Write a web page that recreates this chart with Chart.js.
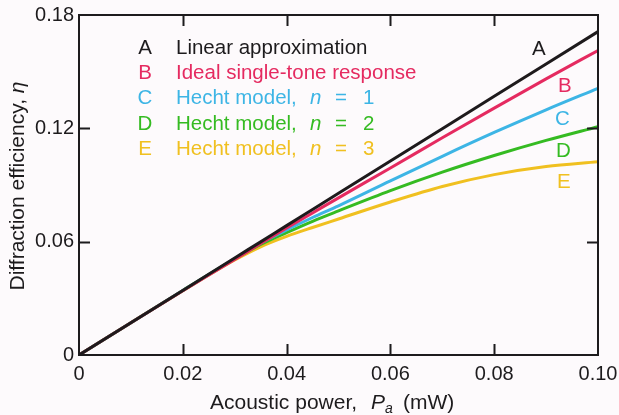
<!DOCTYPE html>
<html><head><meta charset="utf-8">
<script src="https://cdn.jsdelivr.net/npm/chart.js@4.4.0/dist/chart.umd.min.js"></script>
<style>html,body{margin:0;padding:0;background:#fdfafc;} #wrap{width:619px;height:415px;position:relative}</style>
</head><body><div id="wrap"><canvas id="c" width="619" height="415"></canvas></div>
<script>
// ---- data ----
const power   = [0, 0.01, 0.02, 0.03, 0.035, 0.04, 0.045, 0.05, 0.06, 0.07, 0.08, 0.09, 0.10];
const seriesA = [0, 0.0171, 0.0342, 0.0514, 0.0599, 0.0685, 0.0770, 0.0856, 0.1027, 0.1198, 0.1370, 0.1541, 0.1712];
const seriesB = [0, 0.0171, 0.0340, 0.0506, 0.0590, 0.0672, 0.0752, 0.0832, 0.0990, 0.1150, 0.1307, 0.1462, 0.1612];
const seriesC = [0, 0.0171, 0.0342, 0.0510, 0.0592, 0.0662, 0.0728, 0.0790, 0.0922, 0.1052, 0.1178, 0.1298, 0.1412];
const seriesD = [0, 0.0171, 0.0342, 0.0508, 0.0585, 0.0648, 0.0708, 0.0763, 0.0870, 0.0968, 0.1056, 0.1136, 0.1209];
const seriesE = [0, 0.0171, 0.0340, 0.0503, 0.0573, 0.0628, 0.0675, 0.0720, 0.0810, 0.0892, 0.0955, 0.0998, 0.1023];
const xTicks = [0, 0.02, 0.04, 0.06, 0.08, 0.10];
const xTickLabels = ['0', '0.02', '0.04', '0.06', '0.08', '0.10'];
const yTicks = [0, 0.06, 0.12, 0.18];
const yTickLabels = ['0', '0.06', '0.12', '0.18'];
const curveLetters = ['A', 'B', 'C', 'D', 'E'];
const legendTexts = ['Linear approximation', 'Ideal single-tone response', 'Hecht model, ', 'Hecht model, ', 'Hecht model, '];
const hechtOrders = [null, null, '1', '2', '3'];

const FONT = '"Liberation Sans", Arial, Helvetica, sans-serif';
const INK = '#1d1b1d';
const COLORS = ['#1e1a1c', '#e52a60', '#3db5e5', '#35bb22', '#f0c020'];
const allSeries = [seriesA, seriesB, seriesC, seriesD, seriesE];

const datasets = allSeries.map((s, i) => ({
  label: curveLetters[i],
  data: power.map((x, j) => ({x: x, y: s[j]})),
  borderColor: COLORS[i],
  backgroundColor: COLORS[i],
  borderWidth: 3,
  pointRadius: 0,
  cubicInterpolationMode: 'monotone',
  fill: false
}));

const decor = {
  id: 'decor',
  afterDraw(chart) {
    const c = chart.ctx, a = chart.chartArea;
    const xs = chart.scales.x, ys = chart.scales.y;
    c.save();
    // frame
    c.strokeStyle = INK; c.lineWidth = 2;
    c.strokeRect(a.left, a.top, a.right - a.left, a.bottom - a.top);
    // inward ticks
    const TL = 11;
    c.beginPath();
    xTicks.slice(1, -1).forEach(v => {
      const px = Math.round(xs.getPixelForValue(v)) + 0.5;
      c.moveTo(px, a.bottom); c.lineTo(px, a.bottom - TL);
      c.moveTo(px, a.top); c.lineTo(px, a.top + TL);
    });
    yTicks.slice(1, -1).forEach(v => {
      const py = Math.round(ys.getPixelForValue(v)) + 0.5;
      c.moveTo(a.left, py); c.lineTo(a.left + TL, py);
      c.moveTo(a.right, py); c.lineTo(a.right - TL, py);
    });
    c.stroke();

    // legend block
    c.textBaseline = 'alphabetic';
    const normal = '20.5px ' + FONT, italic = 'italic 20.5px ' + FONT;
    for (let i = 0; i < 5; i++) {
      const base = a.top + 39 + i * 25.2;
      c.fillStyle = i === 0 ? INK : COLORS[i];
      c.font = normal; c.textAlign = 'center';
      c.fillText(curveLetters[i], a.left + 66, base);
      c.textAlign = 'left';
      c.fillText(legendTexts[i], a.left + 97, base);
      if (hechtOrders[i]) {
        c.font = italic; c.fillText('n', a.left + 231, base);
        c.font = normal; c.fillText('=', a.left + 256, base);
        c.fillText(hechtOrders[i], a.left + 284, base);
      }
    }
    // curve end labels
    const lab = [[a.left + 453, a.top + 40], [a.left + 479, a.top + 77], [a.left + 476, a.top + 110], [a.left + 477, a.top + 142], [a.left + 478, a.top + 173]];
    c.font = normal; c.textAlign = 'left';
    lab.forEach((p, i) => { c.fillStyle = i === 0 ? INK : COLORS[i]; c.fillText(curveLetters[i], p[0], p[1]); });

    // x axis title
    c.fillStyle = INK;
    const yb = 409;
    c.font = '21px ' + FONT; c.fillText('Acoustic power,', a.left + 131, yb);
    c.font = 'italic 21px ' + FONT; c.fillText('P', a.left + 292, yb);
    c.font = 'italic 14px ' + FONT; c.fillText('a', a.left + 306, yb + 4);
    c.font = '21px ' + FONT; c.fillText('(mW)', a.left + 324, yb);

    // y axis title
    c.translate(24, (a.top + a.bottom) / 2 + 1);
    c.rotate(-Math.PI / 2);
    c.font = '21px ' + FONT;
    const t1 = 'Diffraction efficiency, ';
    const w1 = c.measureText(t1).width;
    c.font = 'italic 21px ' + FONT; const w2 = c.measureText('η').width;
    let sx = -(w1 + w2) / 2;
    c.font = '21px ' + FONT; c.fillText(t1, sx, 0);
    c.font = 'italic 21px ' + FONT; c.fillText('η', sx + w1, 0);
    c.restore();
  }
};

new Chart(document.getElementById('c'), {
  type: 'line',
  data: {datasets},
  options: {
    responsive: false, animation: false, devicePixelRatio: 1,
    layout: {padding: {top: 15, right: 21, left: 0, bottom: 0}},
    plugins: {legend: {display: false}, tooltip: {enabled: false}},
    scales: {
      x: {
        type: 'linear', min: 0, max: 0.10,
        afterBuildTicks: s => { s.ticks = xTicks.map(v => ({value: v})); },
        afterFit: s => { s.height = 60; s.paddingLeft = 0; s.paddingRight = 0; },
        grid: {display: false, drawTicks: false},
        border: {display: false},
        ticks: {callback: (v, i) => xTickLabels[i], color: INK, font: {family: FONT, size: 20}, padding: 7, maxRotation: 0}
      },
      y: {
        type: 'linear', min: 0, max: 0.18,
        afterBuildTicks: s => { s.ticks = yTicks.map(v => ({value: v})); },
        afterFit: s => { s.width = 79; s.paddingTop = 0; s.paddingBottom = 0; },
        grid: {display: false, drawTicks: false},
        border: {display: false},
        ticks: {callback: (v, i) => yTickLabels[i], color: INK, font: {family: FONT, size: 20}, padding: 5}
      }
    }
  },
  plugins: [decor]
});
</script></body></html>
